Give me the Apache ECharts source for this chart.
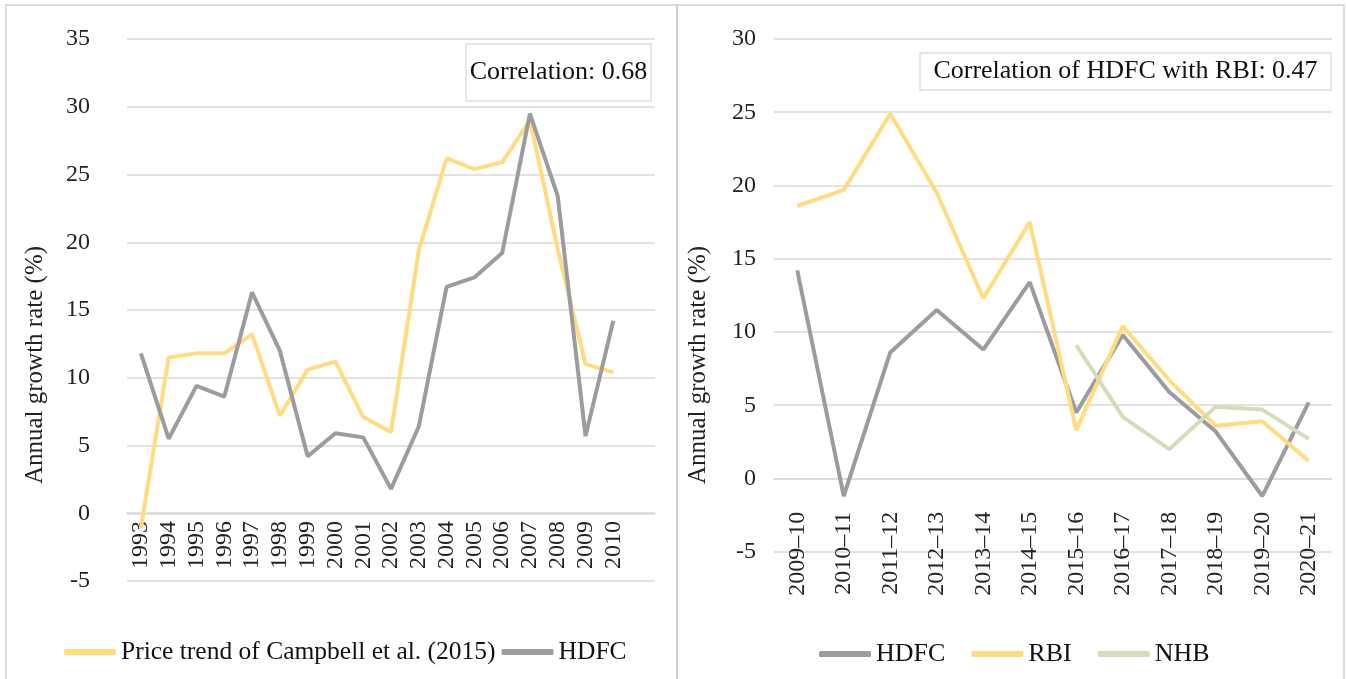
<!DOCTYPE html>
<html>
<head>
<meta charset="utf-8">
<script src="https://cdn.jsdelivr.net/npm/echarts@6/dist/echarts.min.js"></script>
<style>
  html, body { margin: 0; padding: 0; background: #fff; }
  #main { width: 1346px; height: 679px; }
</style>
</head>
<body>
<div id="main"></div>
<script>
// left panel
const years = ['1993', '1994', '1995', '1996', '1997', '1998', '1999', '2000', '2001', '2002',
  '2003', '2004', '2005', '2006', '2007', '2008', '2009', '2010', ''];
const campbell = [-1.1, 11.5, 11.8, 11.8, 13.2, 7.2, 10.6, 11.2, 7.1, 6.0,
  19.4, 26.2, 25.4, 25.9, 29.0, 19.5, 11.0, 10.4];
const hdfcYearly = [11.8, 5.5, 9.4, 8.6, 16.3, 12.0, 4.2, 5.9, 5.6, 1.8,
  6.4, 16.7, 17.4, 19.2, 29.5, 23.4, 5.7, 14.2];
const leftTicks = [-5, 0, 5, 10, 15, 20, 25, 30, 35];

// right panel
const fiscalYears = ['2009–10', '2010–11', '2011–12', '2012–13', '2013–14', '2014–15',
  '2015–16', '2016–17', '2017–18', '2018–19', '2019–20', '2020–21'];
const hdfcFiscal = [14.2, -1.2, 8.6, 11.5, 8.8, 13.4, 4.5, 9.8, 5.9, 3.2, -1.2, 5.2];
const rbi = [18.6, 19.7, 24.9, 19.5, 12.3, 17.5, 3.3, 10.4, 6.7, 3.6, 3.9, 1.2];
const nhb = [null, null, null, null, null, null, 9.1, 4.2, 2.0, 4.9, 4.7, 2.7];
const rightTicks = [-5, 0, 5, 10, 15, 20, 25, 30];

const FONT = 'Liberation Serif';
const GRAY = '#9c9ca0';
const YELLOW = '#ffdc80';
const GREEN = '#d5dcb9';
const GRID_LINE = '#d9d9d9';

var chart = echarts.init(document.getElementById('main'));

function yAxisFor(idx, ticks, margin) {
  return {
    type: 'value',
    gridIndex: idx,
    min: ticks[0],
    max: ticks[ticks.length - 1],
    interval: ticks[1] - ticks[0],
    axisLine: { show: false },
    axisTick: { show: false },
    axisLabel: { color: '#222', fontFamily: FONT, fontSize: 24, margin: margin },
    splitLine: { lineStyle: { color: GRID_LINE, width: 1.5 } }
  };
}

// the category labels sit under the zero line, so the axis is lifted by an offset
function xAxisFor(idx, cats, lift, margin) {
  return {
    type: 'category',
    gridIndex: idx,
    data: cats,
    boundaryGap: true,
    offset: -lift,
    axisLine: { onZero: false, lineStyle: { color: GRID_LINE, width: 1.5 } },
    axisTick: { show: false },
    axisLabel: { rotate: 90, interval: 0, color: '#222', fontFamily: FONT, fontSize: 24, margin: margin }
  };
}

function line(name, data, color, idx) {
  return {
    name: name,
    type: 'line',
    xAxisIndex: idx,
    yAxisIndex: idx,
    data: data,
    symbol: 'none',
    connectNulls: false,
    lineStyle: { color: color, width: 4 },
    itemStyle: { color: color }
  };
}

function axisName(x, label) {
  return {
    type: 'text',
    x: x,
    y: 365,
    rotation: Math.PI / 2,
    style: { text: label, fontFamily: FONT, fontSize: 25, fill: '#222', align: 'center', verticalAlign: 'middle' }
  };
}

function noteBox(x, y, w, h, label) {
  return {
    type: 'group',
    children: [
      { type: 'rect', shape: { x: x, y: y, width: w, height: h }, style: { fill: '#fff', stroke: '#dedede', lineWidth: 1.5 } },
      { type: 'text', x: x + w / 2, y: y + h / 2,
        style: { text: label, fontFamily: FONT, fontSize: 26, fill: '#111', align: 'center', verticalAlign: 'middle' } }
    ]
  };
}

var option = {
  animation: false,
  grid: [
    { left: 127, top: 39, width: 528, height: 542 },
    { left: 774, top: 39, width: 558, height: 512.7 }
  ],
  xAxis: [xAxisFor(0, years, 68, 8), xAxisFor(1, fiscalYears, 73, 33)],
  yAxis: [yAxisFor(0, leftTicks, 37), yAxisFor(1, rightTicks, 18)],
  legend: [
    {
      data: ['Price trend of Campbell et al. (2015)', 'HDFC'],
      left: 59, top: 634, itemWidth: 52, itemHeight: 6, itemGap: 6,
      icon: 'roundRect',
      textStyle: { fontFamily: FONT, fontSize: 25.5, color: '#111' }
    },
    {
      data: ['HDFC', 'RBI', 'NHB'],
      left: 814, top: 636, itemWidth: 52, itemHeight: 6, itemGap: 26,
      icon: 'roundRect',
      textStyle: { fontFamily: FONT, fontSize: 26, color: '#111' }
    }
  ],
  series: [
    line('Price trend of Campbell et al. (2015)', campbell, YELLOW, 0),
    line('HDFC', hdfcYearly, GRAY, 0),
    line('HDFC', hdfcFiscal, GRAY, 1),
    line('RBI', rbi, YELLOW, 1),
    line('NHB', nhb, GREEN, 1)
  ],
  graphic: [
    { type: 'rect', shape: { x: 6, y: 5, width: 671, height: 700 }, style: { fill: 'none', stroke: '#d0d0d0', lineWidth: 1.5 }, z: -1 },
    { type: 'rect', shape: { x: 677, y: 5, width: 667, height: 700 }, style: { fill: 'none', stroke: '#d0d0d0', lineWidth: 1.5 }, z: -1 },
    axisName(35, 'Annual growth rate (%)'),
    axisName(698, 'Annual growth rate (%)'),
    noteBox(466, 44, 185, 57, 'Correlation: 0.68'),
    noteBox(920, 53, 411, 37, 'Correlation of HDFC with RBI: 0.47')
  ]
};

option && chart.setOption(option);
</script>
</body>
</html>
